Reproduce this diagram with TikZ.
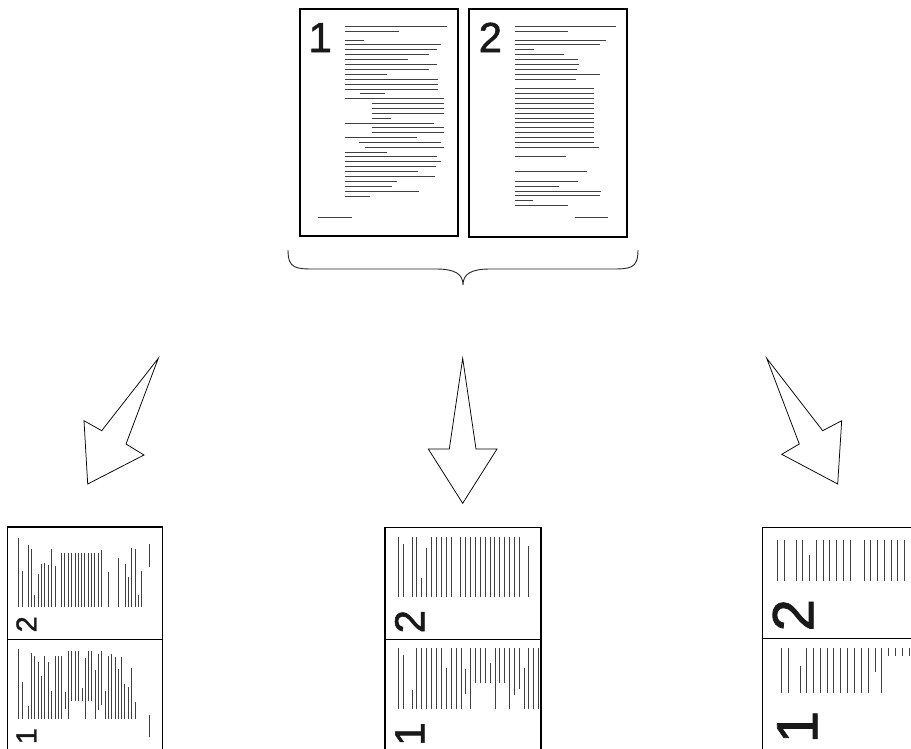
\documentclass[tikz,border=0pt]{standalone}
\usepackage{fontspec}
\newfontfamily\digitfont[FakeBold=1.3]{Liberation Sans}
\tikzset{
  pagebox/.style={draw=black, line width=1.3pt, rectangle, inner sep=0pt, outer sep=0pt, anchor=north west},
  thumbline/.style={draw=black, line width=1.1pt},
  txtline/.style={draw=black!75, line width=1pt},
  digit/.style={font=\digitfont\fontsize{42}{42}\selectfont, anchor=base west, inner sep=0pt, outer sep=0pt, transform shape, text=black!90},
  bigarrow/.style={draw=black, line width=0.75pt, fill=white, line join=miter},
  bracestyle/.style={draw=black!85, line width=0.9pt}
}
\newcommand\pageonecontent{%
  \foreach \yy/\xa/\xb in {78/150/455,93/150/312,120/150/207,133/150/438,148/150/425,163/150/402,178/150/340,192/150/425,207/150/402,222/150/275,237/150/428,252/150/428,267/150/428,281/195/270,296/150/447,310/230/447,325/230/447,340/230/447,355/230/288,369/150/417,383/230/447,398/230/447,412/150/365,427/192/437,441/210/447,456/150/275,470/150/425,485/150/437,500/150/422,514/150/368,529/150/420,543/150/305,558/150/292,573/150/372,588/150/225,652/70/170}
    {\draw[txtline] ({\xa/3-5},{\yy/3-9}) -- ({\xb/3-5},{\yy/3-9});}
  \node[digit] (d1) at (8.5,43) {1};
}
\newcommand\pagetwocontent{%
  \foreach \yy/\xa/\xb in {78/160/462,93/160/318,120/160/432,133/160/415,148/160/215,163/160/305,178/160/348,192/160/352,207/160/345,222/160/413,237/160/342,266/160/395,280/160/395,295/160/395,310/160/395,325/160/395,339/160/395,354/160/395,368/160/395,383/160/395,397/160/395,411/160/395,426/160/395,441/160/410,470/160/313,515/160/375,544/160/348,558/160/290,573/160/418,587/160/415,602/160/212,617/160/318,652/338/438}
    {\draw[txtline] ({\xa/3-7},{\yy/3-9}) -- ({\xb/3-7},{\yy/3-9});}
  \node[digit] (d2) at (9.7,43) {2};
}
\begin{document}
\begin{tikzpicture}[x=1pt,y=-1pt]
\useasboundingbox[fill=white] (0,0) rectangle (911,748);

% top pages
\node[pagebox, minimum width=158pt, minimum height=227pt] (page1) at (300,9) {};
\node[pagebox, minimum width=158pt, minimum height=228pt] (page2) at (469,9) {};
\begin{scope}[shift={(300,9)}]\pageonecontent\end{scope}
\begin{scope}[shift={(469,9)}]\pagetwocontent\end{scope}

% brace
\coordinate (bl) at (288,250);
\coordinate (bm) at (463,285);
\coordinate (br) at (638,250);
\draw[bracestyle] (bl) .. controls (288,269) and (296,269) .. (316,269) -- (436,269)
  .. controls (455,269) and (463,274) .. (bm)
  .. controls (463,274) and (471,269) .. (490,269) -- (610,269)
  .. controls (630,269) and (638,269) .. (br);

% arrows
\draw[bigarrow] (158.3,358.3) -- (101.7,430.7) -- (84,420.7) -- (87.7,484) -- (144,455) -- (126,444) -- cycle;
\draw[bigarrow] (462.7,358.3) -- (476,449) -- (497,449) -- (462.7,503.3) -- (428.3,449) -- (449.3,449) -- cycle;
\draw[bigarrow] (766.7,358.3) -- (822.7,430.7) -- (841.7,420.7) -- (837.7,484) -- (781.7,454.3) -- (799.3,444) -- cycle;

% left thumbnail
\begin{scope}
  \clip (7.3,527) rectangle (162.7,639);
  \begin{scope}[shift={(7,639)}, rotate=90, scale=0.686]\pagetwocontent\end{scope}
\end{scope}
\begin{scope}
  \clip (7.3,639) rectangle (162.7,748);
  \begin{scope}[shift={(7,750)}, rotate=90, scale=0.686]\pageonecontent\end{scope}
\end{scope}
\draw[thumbline] (7.3,749) -- (7.3,527) -- (162.7,527) -- (162.7,749);
\draw[thumbline, line width=0.9pt] (7.3,639) -- (162.7,639);

% middle thumbnail
\begin{scope}
  \clip (385,537) rectangle (541,639);
  \begin{scope}[shift={(381.3,643)}, rotate=90, scale=1]\pagetwocontent\end{scope}
\end{scope}
\begin{scope}
  \clip (385,648) rectangle (541,748);
  \begin{scope}[shift={(381.3,754.3)}, rotate=90, scale=1]\pageonecontent\end{scope}
\end{scope}
\draw[thumbline] (385,749) -- (385,527.3) -- (541,527.3) -- (541,749);
\draw[thumbline, line width=0.9pt] (385,639) -- (541,639);

% right thumbnail
\begin{scope}
  \clip (762.7,540.7) rectangle (911,638.3);
  \begin{scope}[shift={(753.8,644.8)}, rotate=90, scale=1.385]\pagetwocontent\end{scope}
\end{scope}
\begin{scope}
  \clip (762.7,648.3) rectangle (911,748);
  \begin{scope}[shift={(757.8,755)}, rotate=90, scale=1.385]\pageonecontent\end{scope}
\end{scope}
\draw[thumbline] (762.7,749) -- (762.7,527.3) -- (912,527.3);
\draw[thumbline, line width=0.9pt] (762.7,638.3) -- (912,638.3);
\end{tikzpicture}
\end{document}
